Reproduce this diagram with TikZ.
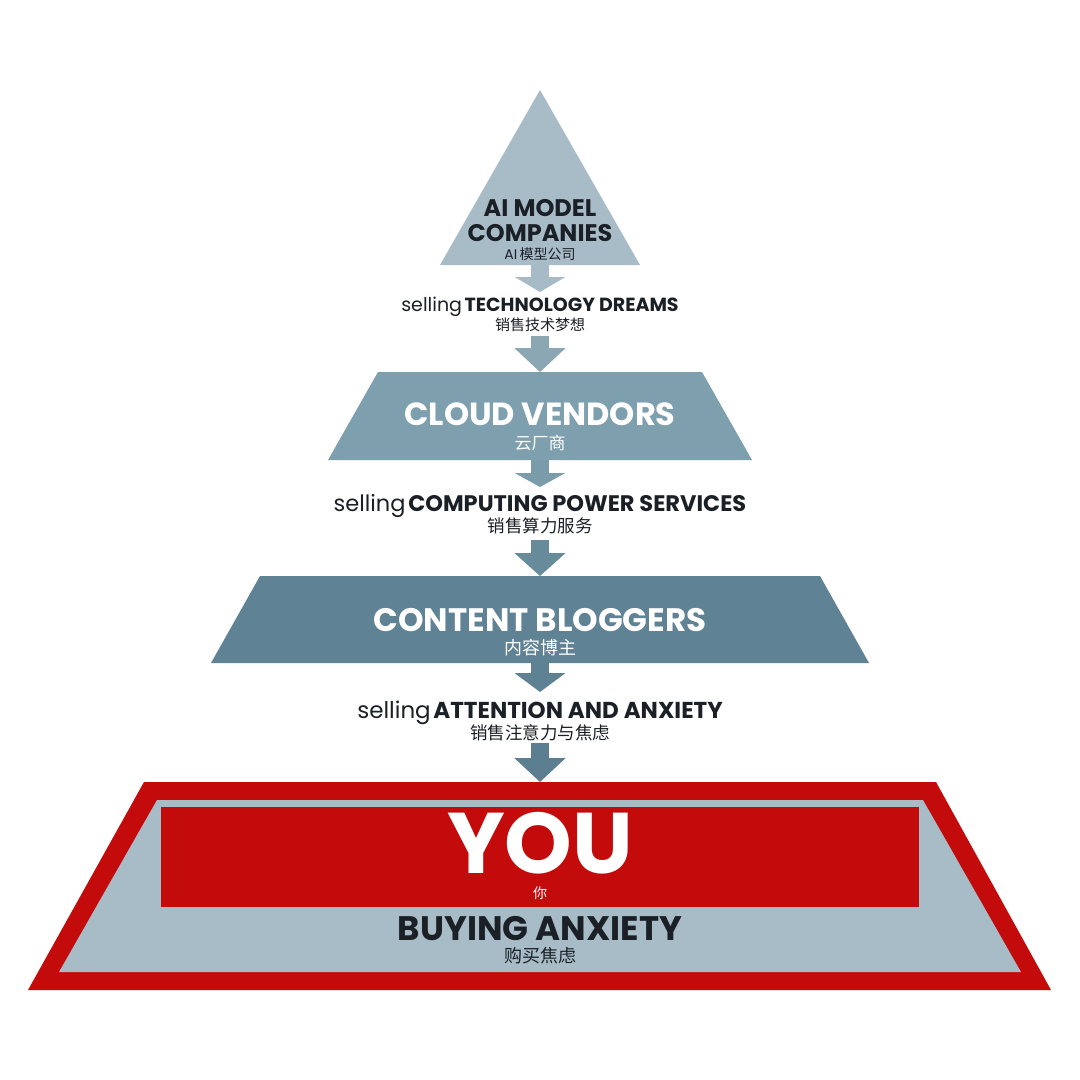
\documentclass[tikz,border=0pt]{standalone}
\usepackage{fontspec}
\setmainfont{Poppins}
\newfontfamily\cjk{Noto Sans CJK SC}
\usetikzlibrary{arrows.meta}
\definecolor{tierA}{HTML}{A8BCC7}
\definecolor{tierB}{HTML}{7E9FAD}
\definecolor{tierC}{HTML}{5F8395}
\definecolor{arrA}{HTML}{A6BBC5}
\definecolor{arrB}{HTML}{8CA7B4}
\definecolor{arrC}{HTML}{7A9BAA}
\definecolor{arrD}{HTML}{688B9C}
\definecolor{arrE}{HTML}{5E8294}
\definecolor{arrF}{HTML}{5B7E90}
\definecolor{youred}{HTML}{C30B0B}
\definecolor{youlight}{HTML}{A7BCC6}
\definecolor{ink}{HTML}{1B2027}
\begin{document}
\begin{tikzpicture}[x=1pt,y=-1pt,
  lbl/.style={anchor=base, inner sep=0pt, text=ink},
  wlbl/.style={anchor=base, inner sep=0pt, text=white},
  blk/.style={line width=18pt, -{Triangle[width=50pt,length=#1]}},
  fs/.style={font=\fontsize{#1}{#1}\selectfont\bfseries},
  fr/.style={font=\fontsize{#1}{#1}\selectfont},
  fc/.style={font=\fontsize{#1}{#1}\selectfont\cjk}]
\fill[white] (0,0) rectangle (1080,1080);
\useasboundingbox (0,0) rectangle (1080,1080);

% tiers
\fill[tierA] (540,90) -- (640,265) -- (440,265) -- cycle;
\fill[tierB] (378,372) -- (702,372) -- (752,460) -- (328,460) -- cycle;
\fill[tierC] (260,576) -- (820,576) -- (869,663) -- (211,663) -- cycle;
\fill[youred] (144,782) -- (936,782) -- (1051,990) -- (28,990) -- cycle;
\fill[youlight] (157,800) -- (923,800) -- (1021,972) -- (59,972) -- cycle;
\fill[youred] (161,807) rectangle (919,907);

% connector end points
\coordinate (t1b) at (540,265);
\coordinate (l1t) at (540,292);
\coordinate (l1b) at (540,336);
\coordinate (t2t) at (540,372);
\coordinate (t2b) at (540,460);
\coordinate (l2t) at (540,487);
\coordinate (l2b) at (540,540);
\coordinate (t3t) at (540,576);
\coordinate (t3b) at (540,663);
\coordinate (l3t) at (540,692);
\coordinate (l3b) at (540,743);
\coordinate (t4t) at (540,782);

\draw[blk=15pt, draw=arrA] (t1b) -- (l1t);
\draw[blk=24pt, draw=arrB] (l1b) -- (t2t);
\draw[blk=14pt, draw=arrC] (t2b) -- (l2t);
\draw[blk=23pt, draw=arrD] (l2b) -- (t3t);
\draw[blk=19pt, draw=arrE] (t3b) -- (l3t);
\draw[blk=24pt, draw=arrF] (l3b) -- (t4t);

% texts
\node[lbl, fs=24] (aim1) at (540,216) {AI MODEL};
\node[lbl, fs=24] (aim2) at (540,241) {COMPANIES};
\node[lbl, fr=14] (aim3) at (540,259) {AI\,{\cjk 模型公司}};

\node[lbl] (s1) at (540,311) {{\fontsize{19}{19}\selectfont selling} {\fontsize{19}{19}\selectfont\bfseries TECHNOLOGY DREAMS}};
\node[lbl, fc=15] (s1c) at (540,330) {销售技术梦想};

\node[wlbl, fs=32] (cv) at (540,425) {CLOUD VENDORS};
\node[wlbl, fc=17] (cvc) at (540,449) {云厂商};

\node[lbl] (s2) at (540,511) {{\fontsize{22.5}{22.5}\selectfont selling} {\fontsize{22.5}{22.5}\selectfont\bfseries COMPUTING POWER SERVICES}};
\node[lbl, fc=17.5] (s2c) at (540,532) {销售算力服务};

\node[wlbl, fs=32.5] (cb) at (540,631) {CONTENT BLOGGERS};
\node[wlbl, fc=18] (cbc) at (540,654) {内容博主};

\node[lbl] (s3) at (540,718) {{\fontsize{23}{23}\selectfont selling} {\fontsize{23}{23}\selectfont\bfseries ATTENTION AND ANXIETY}};
\node[lbl, fc=17.5] (s3c) at (540,739) {销售注意力与焦虑};

\node[wlbl, fs=86] (you) at (540,873) {YOU};
\node[wlbl, fc=14] (youc) at (540,898) {你};
\node[lbl, fs=34] (buy) at (540,940) {BUYING ANXIETY};
\node[lbl, fc=18] (buyc) at (540,962) {购买焦虑};
\end{tikzpicture}
\end{document}
